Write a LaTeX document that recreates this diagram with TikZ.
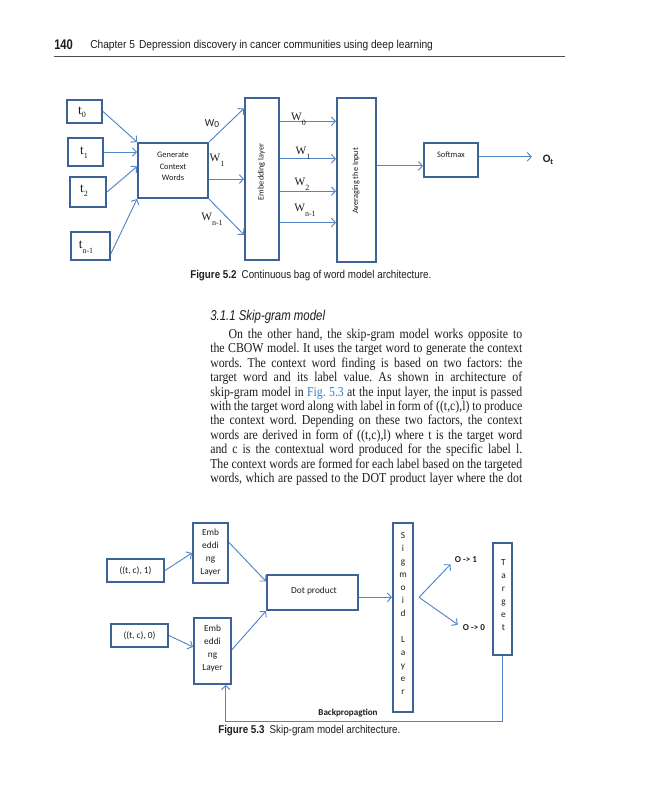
\documentclass[tikz,border=0pt]{standalone}
\usepackage{fontspec}
\setmainfont{Liberation Serif}
\newfontfamily\bodyfont[FakeStretch=0.87]{Liberation Serif}
\newfontfamily\calfont{Carlito}
\newfontfamily\condfont[FakeStretch=0.8]{Liberation Sans}
\newfontfamily\headfont[FakeStretch=0.89]{Liberation Sans}
\newfontfamily\capfont[FakeStretch=0.865]{Liberation Sans}
\newfontfamily\tmsfont{Liberation Serif}
\usetikzlibrary{arrows.meta,fit,calc}
\definecolor{boxc}{HTML}{3E6296}
\definecolor{arrc}{HTML}{5285C6}
\definecolor{linkc}{HTML}{3A7DC9}
\definecolor{inkc}{HTML}{1E1E1E}
\newcommand\lowsub[3]{#1\raisebox{#3}{\fontsize{6}{6}\selectfont #2}}
\begin{document}
\begin{tikzpicture}[x=0.75pt,y=-0.75pt,
  box/.style={draw=boxc,line width=1.5pt,inner sep=0pt},
  arr/.style={draw=arrc,line width=0.7pt,-{Straight Barb[length=3pt,width=6.5pt]}},
  cal/.style={font=\calfont\fontsize{6.3}{8.6}\selectfont,inner sep=0pt,text=inkc},
  calb/.style={font=\calfont\fontsize{7}{9.75}\selectfont,inner sep=0pt,text=inkc,align=center},
  tms/.style={font=\tmsfont\fontsize{8.5}{9}\selectfont,inner sep=0pt,text=inkc},
  tlab/.style={font=\tmsfont\fontsize{10}{11}\selectfont,inner sep=0pt,text=inkc},
  txt/.style={inner sep=0pt,text=inkc}]
\fill[white] (0,0) rectangle (648,800);
\useasboundingbox (0,0) rectangle (648,800);

% ---------- header ----------
\node[txt,anchor=west,font=\condfont\bfseries\fontsize{10.5}{12}\selectfont] (pg) at (54,45) {140};
\node[txt,anchor=west,font=\headfont\fontsize{8.6}{10}\selectfont] (hd) at (90,45.5) {Chapter 5\hspace{0.35em}Depression discovery in cancer communities using deep learning};
\draw[line width=0.5pt,black!70] (54,56) -- (565,56);

% ---------- Figure 5.2 ----------
\node[box,fit={(67,100) (102,123)}] (t0) {};
\node[box,fit={(68,138) (103,166)}] (t1) {};
\node[box,fit={(70,177) (106,207)}] (t2) {};
\node[box,fit={(71,232) (110,260)}] (tn) {};
\node[tlab] (t0l) at (82,112) {\lowsub{t}{0}{-2.2pt}};
\node[tlab] (t1l) at (84,153) {\lowsub{t}{1}{-3.2pt}};
\node[tlab] (t2l) at (84,191) {\lowsub{t}{2}{-3.2pt}};
\node[tlab] (tnl) at (86,247) {\lowsub{t}{n-1}{-4pt}};

\node[box,fit={(138,143) (208,198)}] (gen) {};
\node[cal,align=center] (genl) at (173,166.5) {Generate\\Context\\Words};

\node[box,fit={(245,98) (279,260)}] (emb) {};
\node[cal,rotate=90,font=\calfont\fontsize{6.2}{7}\selectfont] (embl) at (261.5,172) {Embedding layer};
\node[box,fit={(337,98) (376,262)}] (avg) {};
\node[cal,rotate=90,font=\calfont\fontsize{6.2}{7}\selectfont] (avgl) at (356,181) {Averaging the Input};

\node[box,fit={(424,143) (478,177)}] (soft) {};
\node[cal] (softl) at (451,155) {Softmax};
\node[txt,font=\calfont\bfseries\fontsize{8.5}{9}\selectfont] (ot) at (548,159.5) {O\raisebox{-1.5pt}{\fontsize{6}{6}\selectfont t}};

\draw[arr] (t0.east) -- (gen.north west);
\draw[arr] (t1.east) -- (gen.west |- t1.east);
\draw[arr] (t2.east) -- ($(gen.north west)!0.43!(gen.south west)$);
\draw[arr] ($(tn.east)!0.5!(tn.south east)$) -- (gen.south west);

\draw[arr] (gen.north east) -- ($(emb.north west)!0.07!(emb.south west)$);
\draw[arr] ($(gen.north east)!0.65!(gen.south east)$) coordinate (gm) -- (gm -| emb.west);
\draw[arr] (gen.south east) -- ($(emb.north west)!0.84!(emb.south west)$);

\node[txt,font=\calfont\fontsize{8}{9}\selectfont] (w0a) at (212,123.5) {W\raisebox{-1.2pt}{\fontsize{7}{7}\selectfont 0}};
\node[tms] (w1a) at (217,160) {\lowsub{W}{1}{-3.5pt}};
\node[tms] (wna) at (212,219) {\lowsub{W}{n-1}{-3.5pt}};

\draw[arr] ($(emb.north east)!0.148!(emb.south east)$) coordinate (e0) -- (e0 -| avg.west);
\draw[arr] ($(emb.north east)!0.377!(emb.south east)$) coordinate (e1) -- (e1 -| avg.west);
\draw[arr] ($(emb.north east)!0.574!(emb.south east)$) coordinate (e2) -- (e2 -| avg.west);
\draw[arr] ($(emb.north east)!0.765!(emb.south east)$) coordinate (e3) -- (e3 -| avg.west);
\node[tms] (w0b) at (298.5,119) {\lowsub{W}{0}{-3.5pt}};
\node[tms] (w1b) at (303,153) {\lowsub{W}{1}{-3.5pt}};
\node[tms] (w2b) at (302,184.5) {\lowsub{W}{2}{-3.5pt}};
\node[tms] (wnb) at (305,210) {\lowsub{W}{n-1}{-3.5pt}};

\draw[arr] ($(avg.north east)!0.415!(avg.south east)$) coordinate (av) -- (av -| soft.west);
\draw[arr] ($(soft.north east)!0.41!(soft.south east)$) -- ([xshift=-8pt]ot.west |- {$(soft.north east)!0.41!(soft.south east)$});

\node[txt,anchor=west,font=\capfont\fontsize{8.5}{9}\selectfont] (cap1) at (190,276) {\textbf{Figure 5.2}\hspace{0.45em}Continuous bag of word model architecture.};

% ---------- text ----------
\node[txt,anchor=west,font=\condfont\itshape\fontsize{10.7}{12}\selectfont] (sec) at (210,317) {3.1.1 Skip-gram model};
\node[txt,anchor=base west] (body) at (210,338.5) {\parbox[t]{234pt}{\bodyfont\fontsize{10.2}{10.8}\selectfont\frenchspacing
\hbox to\hsize{\hskip1.35em On the other hand, the skip-gram model works opposite to}
\hbox to\hsize{the CBOW model. It uses the target word to generate the context}
\hbox to\hsize{words. The context word finding is based on two factors: the}
\hbox to\hsize{target word and its label value. As shown in architecture of}
\hbox to\hsize{skip-gram model in {\color{linkc}Fig. 5.3} at the input layer, the input is passed}
\hbox to\hsize{with the target word along with label in form of ((t,c),l) to produce}
\hbox to\hsize{the context word. Depending on these two factors, the context}
\hbox to\hsize{words are derived in form of ((t,c),l) where t is the target word}
\hbox to\hsize{and c is the contextual word produced for the specific label l.}
\hbox to\hsize{The context words are formed for each label based on the targeted}
\hbox to\hsize{words, which are passed to the DOT product layer where the dot}}};

% ---------- Figure 5.3 ----------
\node[box,fit={(107,559) (164,582)}] (in1) {};
\node[calb] (in1l) at (135.5,570.5) {((t, c), 1)};
\node[box,fit={(111,624) (168,647)}] (in0) {};
\node[calb] (in0l) at (139.5,635.5) {((t, c), 0)};

\node[box,fit={(193,523) (228,583)}] (emb1) {};
\node[calb] (emb1l) at (210.5,553) {Emb\\eddi\\ng\\Layer};
\node[box,fit={(194,618) (231,684)}] (emb2) {};
\node[calb] (emb2l) at (212.5,649) {Emb\\eddi\\ng\\Layer};

\node[box,fit={(267,575) (358,610)}] (dot) {};
\node[calb] (dotl) at (314,591) {Dot product};

\node[box,fit={(393,523) (413,712)}] (sig) {};
\node[calb] (sigl) at (403,613) {S\\i\\g\\m\\o\\i\\d\\\mbox{}\\L\\a\\y\\e\\r};

\node[box,fit={(493,543) (512,655)}] (tgt) {};
\node[calb] (tgtl) at (503.5,595) {T\\a\\r\\g\\e\\t};

\node[calb,font=\calfont\bfseries\fontsize{6.8}{8}\selectfont] (o1) at (466,560) {O -> 1};
\node[calb,font=\calfont\bfseries\fontsize{6.8}{8}\selectfont] (o0) at (474,628) {O -> 0};

\draw[arr] (in1.east) -- (emb1.west);
\draw[arr] (in0.east) -- ($(emb2.north west)!0.44!(emb2.south west)$);
\draw[arr] ($(emb1.north east)!0.33!(emb1.south east)$) -- ($(dot.north west)!0.2!(dot.south west)$);
\draw[arr] ($(emb2.north east)!0.48!(emb2.south east)$) -- (dot.south west);
\draw[arr] ($(dot.north east)!0.63!(dot.south east)$) coordinate (dp) -- (dp -| sig.west);
\coordinate (fk) at ([xshift=3.75pt]dp -| sig.east);
\draw[arr,shorten >=4.5pt] (fk) -- (o1.west);
\draw[arr,shorten >=4.5pt] (fk) -- (o0.west);
\draw[arr] (tgt.south) -- ++(0,65) -| ($(emb2.south west)!0.84!(emb2.south east)$);
\node[calb,font=\calfont\bfseries\fontsize{6.8}{8}\selectfont] (bp) at (348,713.5) {Backpropagtion};

\node[txt,anchor=west,font=\capfont\fontsize{8.5}{9}\selectfont] (cap2) at (218,731) {\textbf{Figure 5.3}\hspace{0.45em}Skip-gram model architecture.};
\end{tikzpicture}
\end{document}
